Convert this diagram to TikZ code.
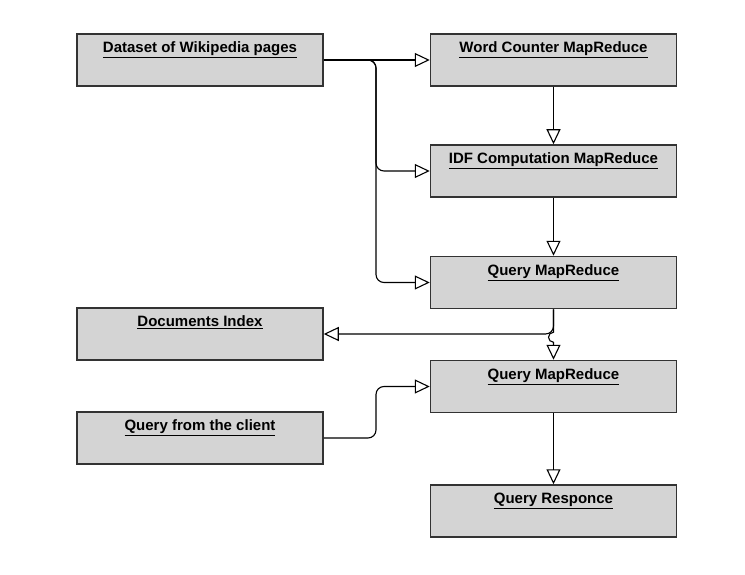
\documentclass[tikz,border=0pt]{standalone}
\usepackage{fontspec}
\setmainfont{Liberation Sans}
\usetikzlibrary{arrows.meta}

\begin{document}
\begin{tikzpicture}[x=1pt, y=-1pt,
	box/.style={draw=black!80, line width=1.5pt, fill=black!17, minimum width=246pt, minimum height=52pt, inner sep=0pt,
		label={[anchor=north, inner sep=8.5pt, font=\bfseries\fontsize{15}{18}\selectfont]north:\underline{#1}}},
	link/.style={line width=1.1pt, rounded corners=8pt, -{Triangle[open, length=15pt, width=14pt]}}]
	\useasboundingbox (0,0) rectangle (745,575);

	% left column
	\node[box={Dataset of Wikipedia pages}] (data) at (200,60) {};
	\node[box={Documents Index}] (index) at (200,334) {};
	\node[box={Query from the client}] (client) at (200,438) {};

	% right column
	\node[box={Word Counter MapReduce}] (count) at (553.5,60) {};
	\node[box={IDF Computation MapReduce}] (idf) at (553.5,171) {};
	\node[box={Query MapReduce}] (query) at (553.5,282.5) {};
	\node[box={Query MapReduce}] (query2) at (553.5,386.5) {};
	\node[box={Query Responce}] (resp) at (553.5,511) {};

	\coordinate (split) at (376,60);
	\coordinate (merge) at (376,438);

	\draw[link] (data.east) -- (count.west);
	\draw[link] (data.east) -- (split) |- (idf.west);
	\draw[link] (data.east) -- (split) |- (query.west);
	\draw[link] (count.south) -- (idf.north);
	\draw[link] (idf.south) -- (query.north);
	\draw[link] (query.south) |- (index.east);
	\draw[link, sharp corners] (query.south) -- ++(0,23)
		arc[start angle=-90, end angle=-270, radius=5] -- (query2.north);
	\draw[link] (client.east) -- (merge) |- (query2.west);
	\draw[link] (query2.south) -- (resp.north);
\end{tikzpicture}
\end{document}
